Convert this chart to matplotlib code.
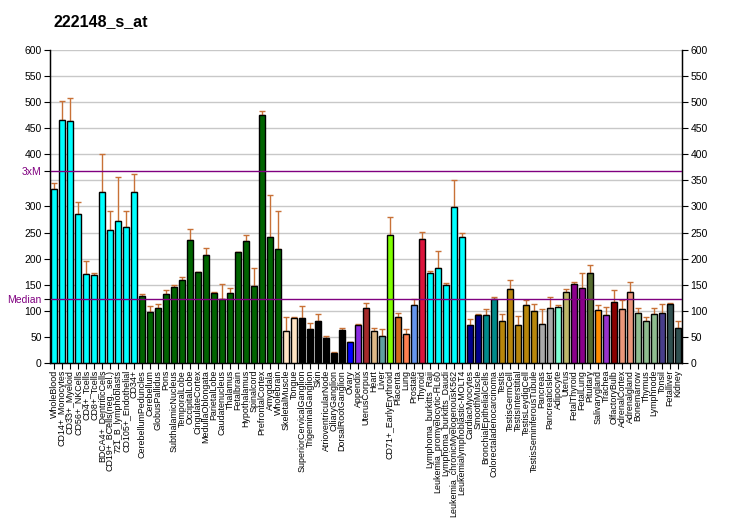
import matplotlib
matplotlib.use("Agg")
import matplotlib.pyplot as plt
import numpy as np

plt.rcParams['font.family'] = ['Liberation Sans', 'DejaVu Sans']

title = "222148_s_at"

labels = [
    "WholeBlood", "CD14+_Monocytes", "CD33+_Myeloid", "CD56+_NKCells", "CD4+_Tcells",
    "CD8+_Tcells", "BDCA4+_DentriticCells", "CD19+_BCells(neg._sel.)", "721_B_lymphoblasts",
    "CD105+_Endothelial", "CD34+", "CerebellumPeduncles", "Cerebellum", "GlobusPallidus",
    "Pons", "SubthalamicNucleus", "TemporalLobe", "OccipitalLobe", "CingulateCortex",
    "MedullaOblongata", "ParietalLobe", "Caudatenucleus", "Thalamus", "Fetalbrain",
    "Hypothalamus", "Spinalcord", "PrefrontalCortex", "Amygdala", "Wholebrain",
    "SkeletalMuscle", "Tongue", "SuperiorCervicalGanglion", "TrigeminalGanglion", "Skin",
    "AtrioventricularNode", "CiliaryGanglion", "DorsalRootGanglion", "Ovary", "Appendix",
    "UterusCorpus", "Heart", "Liver", "CD71+_EarlyErythroid", "Placenta", "Lung",
    "Prostate", "Thyroid", "Lymphoma_burkitts_Raji", "Leukemia_promyelocytic-HL60",
    "Lymphoma_burkitts_Daudi", "Leukemia_chronicMyelogenousK562",
    "Leukemialymphoblastic-MOLT4", "CardiacMyocytes", "SmoothMuscle",
    "BronchialEpithelialCells", "Colorectaladenocarcinoma", "Testis", "TestisGermCell",
    "TestisInterstitial", "TestisLeydigCell", "TestisSeminiferousTubule", "Pancreas",
    "PancreaticIslet", "Adipocyte", "Uterus", "FetalThyroid", "FetalLung", "Pituitary",
    "Salivarygland", "Trachea", "OlfactoryBulb", "AdrenalCortex", "Adrenalgland",
    "Bonemarrow", "Thymus", "Lymphnode", "Tonsil", "Fetalliver", "Kidney",
]

values = [
    333, 466, 464, 286, 170, 168, 327, 255, 272, 260, 327,
    128, 97, 105, 132, 145, 159, 235, 174, 207, 135, 122, 135, 212, 233, 147, 475, 241, 218,
    61, 86, 86, 66, 80, 47, 20, 63, 40, 72, 105, 61, 51, 245, 89, 55, 111, 237,
    172, 183, 149, 299, 241,
    72, 92, 92, 122, 80, 141, 72, 111, 99, 74, 105, 107, 137, 151, 143, 172, 101, 92,
    116, 103, 137, 95, 80, 93, 95, 113, 68,
]

errors = [
    12, 36, 44, 22, 25, 4, 73, 36, 84, 31, 35,
    4, 12, 9, 7, 4, 5, 21, 0, 13, 2, 29, 8, 0, 12, 35, 8, 81, 73,
    27, 2, 23, 10, 13, 4, 2, 5, 0, 2, 10, 7, 14, 35, 7, 11, 11, 14,
    4, 31, 4, 52, 8,
    12, 1, 11, 4, 13, 18, 19, 9, 15, 29, 21, 4, 4, 4, 29, 15, 10, 15,
    23, 17, 18, 10, 8, 12, 18, 2, 12,
]

colors = (
    ["#00FFFF"] * 11 + ["#006400"] * 18 + ["#FFE4C4"] * 2 + ["#000000"] * 6 +
    ["#0000FF", "#8A2BE2", "#A52A2A", "#DEB887", "#5F9EA0", "#7FFF00", "#D2691E",
     "#FF7F50", "#6495ED", "#DC143C"] +
    ["#00FFFF"] * 5 + ["#00008B"] * 2 + ["#008B8B"] * 2 + ["#B8860B"] * 5 +
    ["#A9A9A9"] * 2 + ["#7FFFD4", "#BDB76B", "#8B008B", "#8B008B", "#556B2F",
                      "#FF8C00", "#9932CC", "#8B0000", "#E9967A", "#E9967A"] +
    ["#8FBC8F"] * 3 + ["#483D8B"] + ["#2F4F4F"] * 2
)

median_val = 122
three_xm = 368

fig = plt.figure(figsize=(7.32, 5.30), dpi=100)
ax = fig.add_axes([50 / 732, 1 - 363 / 530, 632 / 732, 313 / 530])

x = np.arange(len(values))
ax.set_xlim(-0.5, len(values) - 0.5)
ax.set_ylim(0, 600)

for yv in range(50, 601, 50):
    ax.axhline(yv, color="#C8C8C8", lw=1.0, zorder=0)

ax.bar(x, values, width=0.72, color=colors, edgecolor="black", linewidth=1.0, zorder=3)
ax.errorbar(x, values, yerr=[np.zeros(len(errors)), errors], fmt="none",
            ecolor="#C87137", elinewidth=1.0, capsize=2.5, capthick=1.0, zorder=2)

ax.axhline(median_val, color="#800080", lw=1.0, zorder=4)
ax.axhline(three_xm, color="#800080", lw=1.0, zorder=4)

ax.spines['top'].set_visible(False)
for s in ['left', 'right', 'bottom']:
    ax.spines[s].set_linewidth(1.0)

left_ticks = [0, 50, 100, 150, 200, 250, 300, 400, 450, 500, 550, 600, median_val, three_xm]
left_labels = ["0", "50", "100", "150", "200", "250", "300", "400", "450", "500", "550", "600",
               "Median", "3xM"]
ax.set_yticks(left_ticks)
ax.set_yticklabels(left_labels, fontsize=7.5)
for lab in ax.get_yticklabels():
    if lab.get_text() in ("Median", "3xM"):
        lab.set_color("#800080")
for t in ax.yaxis.get_major_ticks():
    t.tick1line.set_markersize(4)

ax.set_xticks(x)
ax.set_xticklabels(labels, rotation=90, fontsize=6.4)
ax.tick_params(axis='x', length=4, pad=1)
ax.tick_params(axis='y', length=4, pad=2)

ax2 = ax.twinx()
ax2.set_ylim(0, 600)
ax2.set_yticks(range(0, 601, 50))
ax2.set_yticklabels([str(v) for v in range(0, 601, 50)], fontsize=7.5)
ax2.tick_params(axis='y', length=4, pad=2)
ax2.spines['top'].set_visible(False)

fig.text(53 / 732, 1 - 22 / 530, title, fontsize=11.5, fontweight="bold", va="center", ha="left")

fig.savefig("out.png", dpi=100)
